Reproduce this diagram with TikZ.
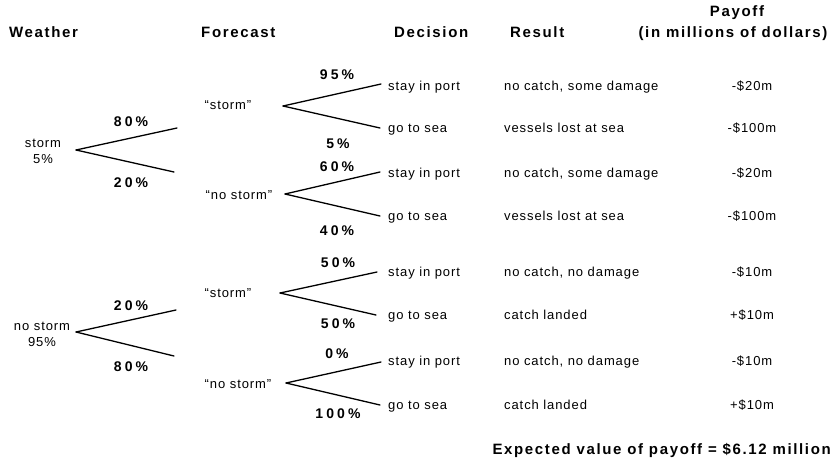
\documentclass[tikz,border=0pt]{standalone}
\usepackage{fontspec}
\setmainfont{Liberation Sans}
\newfontfamily\regf[LetterSpace=7]{Liberation Sans}
\newfontfamily\hdf[LetterSpace=11]{Liberation Sans}
\newfontfamily\pcf[LetterSpace=22]{Liberation Sans}
\tikzset{
  txt/.style={font=\regf\fontsize{13}{15.5}\selectfont, inner sep=0pt, anchor=base west},
  hdr/.style={font=\hdf\bfseries\fontsize{15}{17}\selectfont, inner sep=0pt, anchor=base west},
  pct/.style={font=\pcf\bfseries\fontsize{14}{16}\selectfont, inner sep=0pt},
  rootlbl/.style={font=\regf\fontsize{13}{16}\selectfont, inner sep=0pt, align=center},
  fclbl/.style={font=\regf\fontsize{13}{15.5}\selectfont, inner sep=0pt},
  pay/.style={font=\regf\fontsize{13}{15.5}\selectfont, inner sep=0pt, anchor=base},
  branch/.style={line width=1.3pt, line cap=round}
}
\begin{document}
\begin{tikzpicture}[x=1pt,y=-1pt]
\useasboundingbox (0,0) rectangle (835,464);
% headers
\node[hdr] (hW) at (9,37) {Weather};
\node[hdr] (hF) at (201,37) {Forecast};
\node[hdr] (hD) at (394,37) {Decision};
\node[hdr] (hR) at (510,37) {Result};
\node[hdr, anchor=base] (hP) at (737,16) {Payoff};
\node[hdr, anchor=base] (hM) at (733,37) {(in millions of dollars)};

% ---------- top half: storm ----------
\node[rootlbl] (w1) at (43,151) {storm\\5\%};
\coordinate (r1) at (76,150);
\coordinate (r1u) at (177,128);
\coordinate (r1d) at (174,172);
\draw[branch] (r1) -- (r1u);
\draw[branch] (r1) -- (r1d);
\node[pct] (p1) at (131,122) {80\%};
\node[pct] (p2) at (131,183) {20\%};

\node[fclbl] (fc1) at (228,105) {“storm”};
\coordinate (f1) at (283,106);
\coordinate (f1u) at (381,84);
\coordinate (f1d) at (380,128);
\draw[branch] (f1) -- (f1u);
\draw[branch] (f1) -- (f1d);
\node[pct] (p3) at (337,75) {95\%};
\node[pct] (p4) at (338,144) {5\%};

\node[fclbl] (fc2) at (239,195) {“no storm”};
\coordinate (f2) at (285,194);
\coordinate (f2u) at (380,172);
\coordinate (f2d) at (380,216);
\draw[branch] (f2) -- (f2u);
\draw[branch] (f2) -- (f2d);
\node[pct] (p5) at (337,167) {60\%};
\node[pct] (p6) at (337,231) {40\%};

% ---------- bottom half: no storm ----------
\node[rootlbl] (w2) at (42,334) {no storm\\95\%};
\coordinate (r2) at (76,332);
\coordinate (r2u) at (176,310);
\coordinate (r2d) at (174,356);
\draw[branch] (r2) -- (r2u);
\draw[branch] (r2) -- (r2d);
\node[pct] (p7) at (131,306) {20\%};
\node[pct] (p8) at (131,367) {80\%};

\node[fclbl] (fc3) at (228,293) {“storm”};
\coordinate (f3) at (280,293);
\coordinate (f3u) at (377,272);
\coordinate (f3d) at (376,315);
\draw[branch] (f3) -- (f3u);
\draw[branch] (f3) -- (f3d);
\node[pct] (p9) at (338,263) {50\%};
\node[pct] (p10) at (338,324) {50\%};

\node[fclbl] (fc4) at (238,384) {“no storm”};
\coordinate (f4) at (286,383);
\coordinate (f4u) at (381,362);
\coordinate (f4d) at (380,405);
\draw[branch] (f4) -- (f4u);
\draw[branch] (f4) -- (f4d);
\node[pct] (p11) at (337,354) {0\%};
\node[pct] (p12) at (338,414) {100\%};

% ---------- decisions ----------
\node[txt] (d1) at (388,90) {stay in port};
\node[txt] (d2) at (388,132) {go to sea};
\node[txt] (d3) at (388,177) {stay in port};
\node[txt] (d4) at (388,220) {go to sea};
\node[txt] (d5) at (388,276) {stay in port};
\node[txt] (d6) at (388,319) {go to sea};
\node[txt] (d7) at (388,365) {stay in port};
\node[txt] (d8) at (388,409) {go to sea};

% ---------- results ----------
\node[txt] (o1) at (504,90) {no catch, some damage};
\node[txt] (o2) at (504,132) {vessels lost at sea};
\node[txt] (o3) at (504,177) {no catch, some damage};
\node[txt] (o4) at (504,220) {vessels lost at sea};
\node[txt] (o5) at (504,276) {no catch, no damage};
\node[txt] (o6) at (504,319) {catch landed};
\node[txt] (o7) at (504,365) {no catch, no damage};
\node[txt] (o8) at (504,409) {catch landed};

% ---------- payoffs ----------
\node[pay] (v1) at (752,90) {-\$20m};
\node[pay] (v2) at (752,132) {-\$100m};
\node[pay] (v3) at (752,177) {-\$20m};
\node[pay] (v4) at (752,220) {-\$100m};
\node[pay] (v5) at (752,276) {-\$10m};
\node[pay] (v6) at (752,319) {+\$10m};
\node[pay] (v7) at (752,365) {-\$10m};
\node[pay] (v8) at (752,409) {+\$10m};

\node[hdr, anchor=base east] (ev) at (831,454) {Expected value of payoff = \$6.12 million};
\end{tikzpicture}
\end{document}
